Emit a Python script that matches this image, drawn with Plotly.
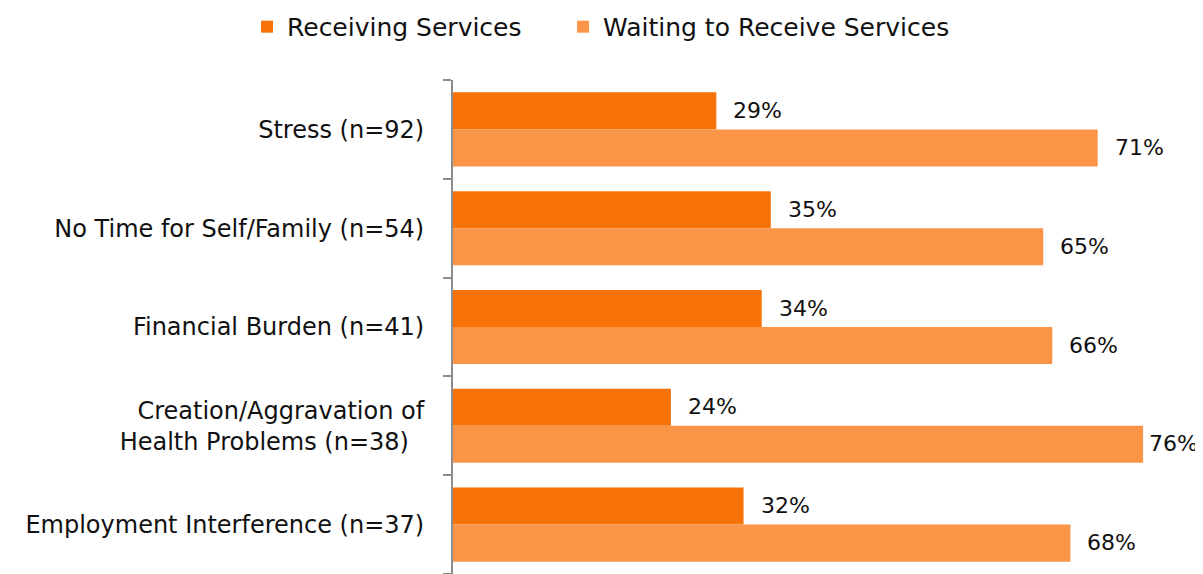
import plotly.graph_objects as go

categories = ["Stress (n=92)", "No Time for Self/Family (n=54)", "Financial Burden (n=41)",
              "Creation/Aggravation of<br>Health Problems (n=38)", "Employment Interference (n=37)"]
receiving = [29, 35, 34, 24, 32]
waiting = [71, 65, 66, 76, 68]
series_names = ["Receiving Services", "Waiting to Receive Services"]
colors = ["#F77307", "#FA9446"]

FONT = "DejaVu Sans"
XMAX = 82.6
fig = go.Figure()
legends = ["legend", "legend2"]
for name, vals, col, lg in zip(series_names, [receiving, waiting], colors, legends):
    fig.add_trace(go.Bar(y=categories, x=vals, name=name, orientation="h", legend=lg,
                         marker=dict(color=col, line=dict(width=0))))

annotations = []
for i, vals in enumerate([receiving, waiting]):
    for c, v in zip(categories, vals):
        shift = 15 if v < 74 else 4
        annotations.append(dict(x=v, y=c, xref="x", yref="y", text=f"{v}%", showarrow=False,
                                xanchor="left", xshift=shift, yshift=(19 if i == 0 else -18),
                                font=dict(family=FONT, size=22, color="#111")))

# centre the two-line label roughly like the reference
ticktext = [c.replace("<br>Health Problems (n=38)", "<br>Health Problems (n=38)\u00a0\u00a0")
            for c in categories]

legend_common = dict(orientation="h", xref="container", yref="paper", y=1.154,
                     xanchor="left", yanchor="top", font=dict(size=25), itemwidth=30)

# page body has an 8px margin; compensate so the chart lands where the reference has it
fig.update_layout(
    width=1195, height=566,
    margin=dict(l=445, r=0, t=72, b=0, autoexpand=False),
    plot_bgcolor="white", paper_bgcolor="white",
    barmode="group", bargap=0.25, bargroupgap=0,
    font=dict(family=FONT, size=24, color="#111"),
    legend=dict(x=0.2, **legend_common),
    legend2=dict(x=0.4645, **legend_common),
    annotations=annotations,
    showlegend=True,
)
fig.update_xaxes(range=[0, XMAX], showgrid=False, showticklabels=False, zeroline=False, ticks="")
fig.update_yaxes(autorange="reversed", showline=True, linecolor="#8c8c8c", linewidth=2,
                 ticks="outside", tickson="boundaries", ticklen=8, tickcolor="#8c8c8c", tickwidth=2,
                 showgrid=False, ticklabelstandoff=22,
                 tickmode="array", tickvals=categories, ticktext=ticktext)
fig.write_html("out.html")
